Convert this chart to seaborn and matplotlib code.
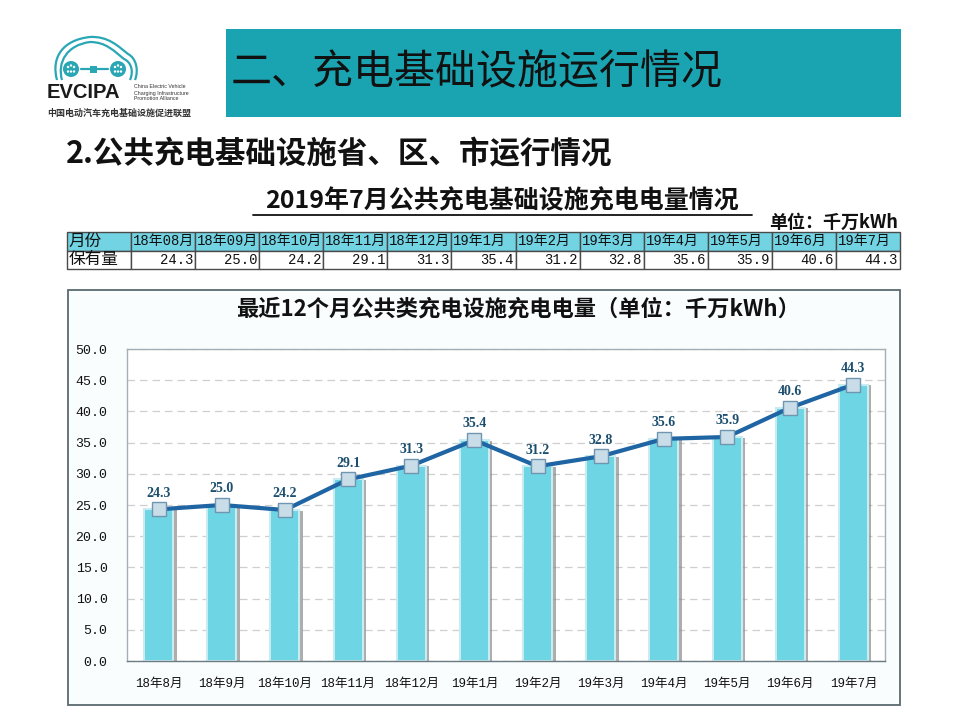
import numpy as np
import pandas as pd
import matplotlib
matplotlib.use('Agg')
import matplotlib.pyplot as plt
import matplotlib.patheffects as pe
from matplotlib.patches import Rectangle, Circle, PathPatch
from matplotlib.path import Path
from matplotlib.lines import Line2D
import seaborn as sns

# ---------------- data ----------------
months = ['18年8月', '18年9月', '18年10月', '18年11月', '18年12月', '19年1月',
          '19年2月', '19年3月', '19年4月', '19年5月', '19年6月', '19年7月']
table_months = ['18年08月', '18年09月', '18年10月', '18年11月', '18年12月', '19年1月',
                '19年2月', '19年3月', '19年4月', '19年5月', '19年6月', '19年7月']
values = [24.3, 25.0, 24.2, 29.1, 31.3, 35.4, 31.2, 32.8, 35.6, 35.9, 40.6, 44.3]
y_ticks = [0, 5, 10, 15, 20, 25, 30, 35, 40, 45, 50]

banner_title = '二、充电基础设施运行情况'
section_title = '2.公共充电基础设施省、区、市运行情况'
table_title = '2019年7月公共充电基础设施充电电量情况'
unit_text = '单位：千万kWh'
chart_title = '最近12个月公共类充电设施充电电量（单位：千万kWh）'
row_labels = ['月份', '保有量']

# ---------------- style ----------------
sns.set_theme(style='white')
plt.rcParams['font.family'] = ['Noto Sans CJK SC', 'DejaVu Sans']
plt.rcParams['axes.unicode_minus'] = False
MONO = ['Liberation Mono', 'Noto Sans CJK SC']

W, H = 960, 720
fig = plt.figure(figsize=(9.6, 7.2), dpi=100)
fig.patch.set_facecolor('white')


def box(x0, y0, x1, y1):
    return [x0 / W, 1 - y1 / H, (x1 - x0) / W, (y1 - y0) / H]


# background axes in pixel coordinates (y downward)
bg = fig.add_axes([0, 0, 1, 1], zorder=-5)
bg.set_xlim(0, W)
bg.set_ylim(H, 0)
bg.axis('off')

# ---------------- logo ----------------
teal = '#2aa7b5'
codes = [Path.MOVETO] + [Path.CURVE4] * 9
outer = [(57, 80), (51, 58), (62, 40), (90, 37), (108, 36), (118, 46), (128, 54),
         (136, 58), (139, 70), (135, 80)]
inner = [(62, 80), (57, 62), (67, 45), (90, 42), (106, 42), (114, 51), (124, 59),
         (131, 62), (134, 71), (130, 80)]
for v in (outer, inner):
    bg.add_patch(PathPatch(Path(v, codes), facecolor='none', edgecolor=teal, lw=1.6))
for cx in (71, 118):
    bg.add_patch(Circle((cx, 69), 8, facecolor=teal, edgecolor='none'))
    for dx, dy in [(-3, -2), (3, -2), (0, 2.5), (-3, 2.5), (3, 2.5), (0, -3.5)]:
        bg.add_patch(Circle((cx + dx, 69 + dy), 1.2, facecolor='white', edgecolor='none'))
bg.add_line(Line2D([81, 108], [69, 69], color=teal, lw=1.6))
bg.add_patch(Rectangle((90, 65.5), 7, 7, facecolor=teal, edgecolor='none'))
bg.text(47, 93, 'EVCIPA', fontsize=14.5, fontweight='bold', family='Liberation Sans',
        va='center', ha='left', color='#1a1a1a')
for i, t in enumerate(['China Electric Vehicle', 'Charging Infrastructure', 'Promotion Alliance']):
    bg.text(134, 87 + i * 6, t, fontsize=3.8, family='Liberation Sans', va='center',
            ha='left', color='#333333')
bg.text(47, 113, '中国电动汽车充电基础设施促进联盟', fontsize=6.5, fontweight='bold',
        va='center', ha='left', color='#333333')

# ---------------- banner & headings ----------------
bg.add_patch(Rectangle((226, 29), 901 - 226, 117 - 29, facecolor='#1aa4b2', edgecolor='none'))
bg.text(231, 73, banner_title, fontsize=29.5, va='center', ha='left', color='#111111')
bg.text(66, 154, section_title, fontsize=22, fontweight='bold',
        va='center', ha='left', color='#111111')
bg.text(502, 201, table_title, fontsize=18, fontweight='bold',
        va='center', ha='center', color='#111111')
bg.add_line(Line2D([253, 752], [215, 215], color='#111111', lw=1.3))
bg.text(898, 222, unit_text, fontsize=13, fontweight='bold',
        va='center', ha='right', color='#111111')

# ---------------- chart box ----------------
bg.add_patch(Rectangle((68, 290), 900 - 68, 705 - 290, facecolor='#fafdfe',
                       edgecolor='#5a6a70', lw=1.3))
bg.text(518, 309, chart_title, fontsize=16, fontweight='bold',
        va='center', ha='center', color='#111111')

# ---------------- table ----------------
axt = fig.add_axes(box(67, 232, 900, 269))
axt.axis('off')
cell_text = [[row_labels[0]] + table_months,
             [row_labels[1]] + [f'{v:.1f}' for v in values]]
tab = axt.table(cellText=cell_text, bbox=[0, 0, 1, 1], cellLoc='right')
tab.auto_set_font_size(False)
for (r, c), cell in tab.get_celld().items():
    cell.set_edgecolor('#4a4a4a')
    cell.set_linewidth(1.0)
    cell.PAD = 0.03
    txt = cell.get_text()
    txt.set_fontsize(10)
    txt.set_fontfamily(MONO)
    txt.set_color('#111111')
    if r == 0:
        cell.set_facecolor('#72d4e2')
        txt.set_horizontalalignment('left')
    else:
        cell.set_facecolor('white')
    if c == 0:
        txt.set_horizontalalignment('left')
        txt.set_fontsize(12)

# ---------------- chart ----------------
ax = fig.add_axes(box(127, 349, 885, 661), zorder=2)
ax.set_facecolor('white')
sns.barplot(x=months, y=values, color='#6dd5e3', saturation=1, width=0.46,
            edgecolor='#c8ecf2', linewidth=1.5, ax=ax, zorder=2)
for bar in ax.patches:
    bar.set_path_effects([pe.SimplePatchShadow(offset=(2.5, -0.5), shadow_rgbFace='#8a8a8a',
                                               alpha=0.7), pe.Normal()])
bars = ax.containers[0]

sns.pointplot(x=months, y=values, ax=ax, color='#1f64a3', markers='s', linestyles='-',
              errorbar=None)
for ln in ax.lines:
    if ln.get_marker() == 's':
        ln.set_linewidth(3)
        ln.set_markersize(9.5)
        ln.set_markerfacecolor('#c9dde9')
        ln.set_markeredgecolor('#6f95b0')
        ln.set_markeredgewidth(1)
        ln.set_zorder(4)

labels = ax.bar_label(bars, labels=[f'{v:.1f}' for v in values], padding=7,
                      fontsize=10, fontweight='bold', color='#1c4e6e',
                      family='Liberation Serif')
for t in labels:
    t.set_zorder(6)

ax.set_ylim(0, 50)
ax.set_xlim(-0.5, len(months) - 0.5)
ax.set_yticks(y_ticks)
ax.set_yticklabels([f'{t:.1f}' for t in y_ticks])
ax.set_xlabel('')
ax.set_ylabel('')
ax.yaxis.grid(True, linestyle=(0, (6, 4)), color='#cfcfcf', lw=0.9)
ax.xaxis.grid(False)
ax.set_axisbelow(True)
for s in ax.spines.values():
    s.set_visible(True)
    s.set_color('#a3afb4')
    s.set_linewidth(1)
ax.spines['bottom'].set_color('#6b7b82')
ax.tick_params(axis='y', length=0, pad=14, labelsize=9.5, labelcolor='#111111')
ax.tick_params(axis='x', length=0, pad=12, labelsize=9, labelcolor='#111111')
for t in ax.get_yticklabels() + ax.get_xticklabels():
    t.set_fontfamily(MONO)

fig.savefig('out.png', dpi=100, facecolor='white')
